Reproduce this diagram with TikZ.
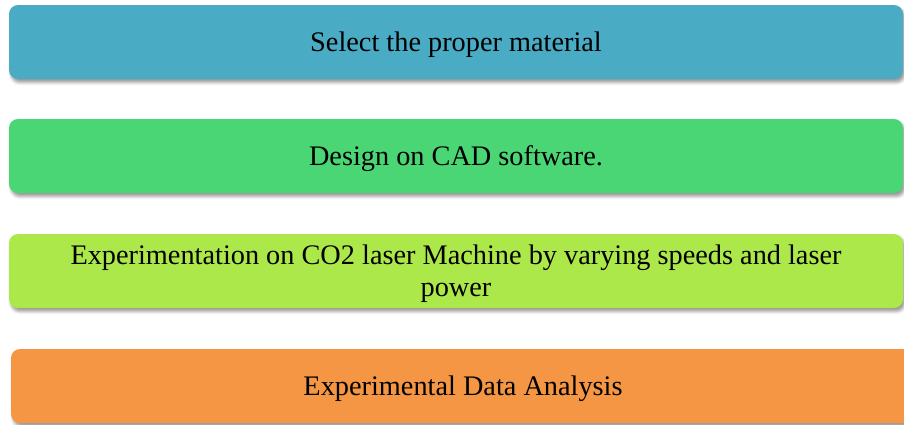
\documentclass[tikz,border=0pt]{standalone}
\usepackage{fontspec}
\setmainfont{Liberation Serif}
\usetikzlibrary{shadows.blur}
\definecolor{stepA}{RGB}{74,171,197}
\definecolor{stepB}{RGB}{74,214,116}
\definecolor{stepC}{RGB}{172,232,74}
\definecolor{stepD}{RGB}{245,150,69}
\tikzset{
  stagebox/.style={rounded corners=9pt, minimum height=74pt, inner sep=0pt,
    blur shadow={shadow xshift=2pt, shadow yshift=-3.5pt, shadow blur radius=3pt, shadow opacity=40}},
  stagetext/.style={inner sep=0pt, align=center, yshift=-3pt,
    font=\fontsize{28.3}{32}\selectfont, text=black},
}
\begin{document}
\begin{tikzpicture}[x=1pt,y=-1pt]
\useasboundingbox (0,0) rectangle (904,424);
\begin{scope}
\clip (0,0) rectangle (904,424);
\node[stagebox, fill=stepA, minimum width=894pt] (s1) at (456,42) {};
\node[stagebox, fill=stepB, minimum width=894pt] (s2) at (456,156) {};
\node[stagebox, fill=stepC, minimum width=894pt] (s3) at (456,271) {};
\node[stagebox, fill=stepD, minimum width=904pt] (s4) at (463,386) {};
\node[stagetext] (t1) at (s1) {Select the proper material};
\node[stagetext] (t2) at (s2) {Design on CAD software.};
\node[stagetext] (t3) at (s3) {Experimentation on CO2 laser Machine by varying speeds and laser\\power};
\node[stagetext] (t4) at (s4) {Experimental Data Analysis};
\end{scope}
\end{tikzpicture}
\end{document}
